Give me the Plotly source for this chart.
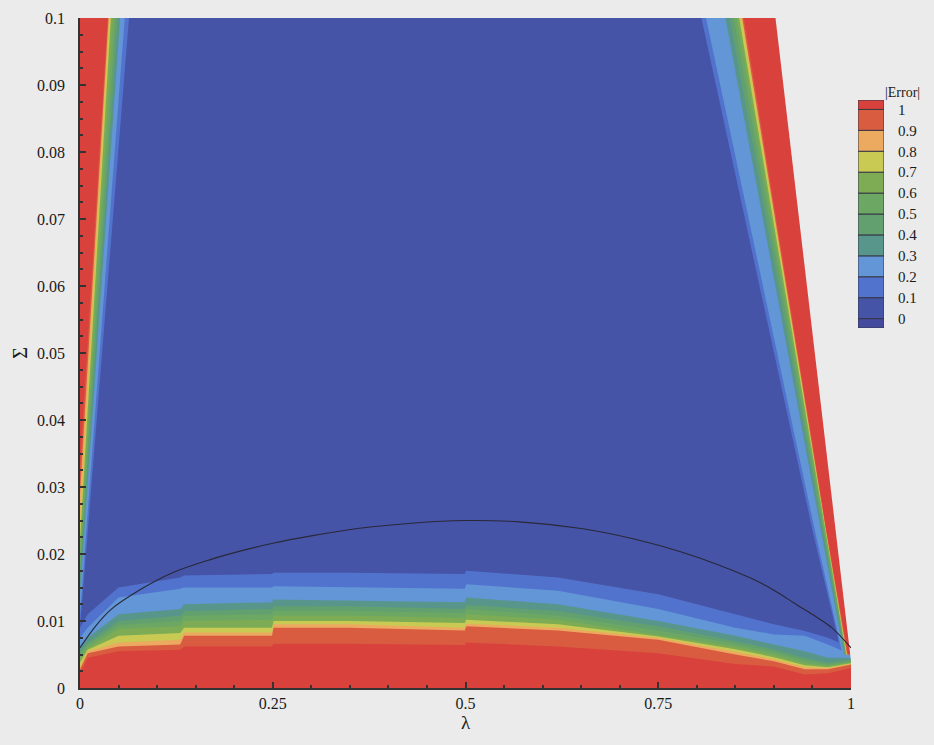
import plotly.graph_objects as go

# ---------------- data ----------------
levels = [0.1, 0.2, 0.3, 0.4, 0.5, 0.6, 0.7, 0.8, 0.9, 1.0]
level_labels = ["0", "0.1", "0.2", "0.3", "0.4", "0.5", "0.6", "0.7", "0.8", "0.9", "1"]
level_ticks = [0.0, 0.1, 0.2, 0.3, 0.4, 0.5, 0.6, 0.7, 0.8, 0.9, 1.0]

# legend bands: lower and upper bound of each colour box (below 0 ... above 1)
band_lower = [-0.045, 0.0, 0.1, 0.2, 0.3, 0.4, 0.5, 0.6, 0.7, 0.8, 0.9, 1.0]
band_upper = [0.0, 0.1, 0.2, 0.3, 0.4, 0.5, 0.6, 0.7, 0.8, 0.9, 1.0, 1.045]
band_colors = [
    "rgb(68,74,158)",   # < 0
    "rgb(70,84,168)",   # 0 - 0.1
    "rgb(82,115,205)",  # 0.1 - 0.2
    "rgb(98,150,215)",  # 0.2 - 0.3
    "rgb(88,150,140)",  # 0.3 - 0.4
    "rgb(98,160,112)",  # 0.4 - 0.5
    "rgb(108,168,100)", # 0.5 - 0.6
    "rgb(125,172,84)",  # 0.6 - 0.7
    "rgb(200,202,84)",  # 0.7 - 0.8
    "rgb(236,170,96)",  # 0.8 - 0.9
    "rgb(218,92,64)",   # 0.9 - 1
    "rgb(217,66,60)",   # > 1
]

# left wedge: lambda reached by each level at Sigma = 0.1, and Sigma where it meets lambda = 0
left_top_lambda = [0.0635, 0.058, 0.052, 0.049, 0.046, 0.043, 0.040, 0.038, 0.037, 0.036]
left_base_sigma = [0.009, 0.011, 0.014, 0.016, 0.018, 0.020, 0.022, 0.025, 0.029, 0.033]

# right wedge: lambda of each level line at three Sigma heights
right_sigma = [0.1, 0.0236, 0.005]
right_top_lambda = [0.806, 0.812, 0.837, 0.843, 0.848, 0.852, 0.855, 0.858, 0.859, 0.861]
right_mid_lambda = [0.950, 0.953, 0.961, 0.9625, 0.964, 0.965, 0.966, 0.967, 0.9675, 0.968]
right_low_lambda = [0.988, 0.989, 0.991, 0.992, 0.993, 0.9935, 0.994, 0.9945, 0.995, 0.996]

# right edge of the computed domain
edge_lambda = [0.899, 0.980, 0.997, 1.0, 1.0]
edge_sigma = [0.1, 0.0236, 0.007, 0.004, 0.0]

# bottom layers: Sigma height of each level along lambda
bottom_lambda = [0.0, 0.01, 0.05, 0.13, 0.135, 0.249, 0.251, 0.35, 0.499, 0.501,
                 0.62, 0.75, 0.85, 0.90, 0.94, 0.97, 1.0]
bottom_01 = [0.0090, 0.0110, 0.0150, 0.0165, 0.0168, 0.0170, 0.0172, 0.0172, 0.0170, 0.0175,
             0.0165, 0.0140, 0.0110, 0.0095, 0.0085, 0.0075, 0.0060]
bottom_02 = [0.0075, 0.0090, 0.0135, 0.0148, 0.0150, 0.0150, 0.0152, 0.0150, 0.0148, 0.0155,
             0.0145, 0.0118, 0.0090, 0.0080, 0.0078, 0.0065, 0.0050]
bottom_03 = [0.0062, 0.0075, 0.0110, 0.0118, 0.0125, 0.0128, 0.0132, 0.0130, 0.0128, 0.0135,
             0.0125, 0.0100, 0.0078, 0.0065, 0.0055, 0.0045, 0.0045]
bottom_04 = [0.0055, 0.0068, 0.0100, 0.0108, 0.0115, 0.0118, 0.0122, 0.0122, 0.0118, 0.0124,
             0.0115, 0.0092, 0.0070, 0.0058, 0.0045, 0.0038, 0.0042]
bottom_05 = [0.0050, 0.0064, 0.0094, 0.0100, 0.0108, 0.0110, 0.0115, 0.0115, 0.0112, 0.0118,
             0.0108, 0.0086, 0.0066, 0.0054, 0.0041, 0.0035, 0.0040]
bottom_06 = [0.0045, 0.0060, 0.0088, 0.0092, 0.0100, 0.0102, 0.0108, 0.0108, 0.0105, 0.0110,
             0.0102, 0.0080, 0.0062, 0.0050, 0.0037, 0.0033, 0.0038]
bottom_07 = [0.0038, 0.0057, 0.0078, 0.0082, 0.0090, 0.0090, 0.0100, 0.0100, 0.0097, 0.0102,
             0.0095, 0.0077, 0.0058, 0.0046, 0.0034, 0.0031, 0.0037]
bottom_08 = [0.0032, 0.0055, 0.0068, 0.0072, 0.0083, 0.0083, 0.0095, 0.0095, 0.0090, 0.0096,
             0.0090, 0.0075, 0.0054, 0.0043, 0.0031, 0.0030, 0.0036]
bottom_09 = [0.0028, 0.0052, 0.0062, 0.0065, 0.0078, 0.0078, 0.0090, 0.0090, 0.0086, 0.0092,
             0.0086, 0.0072, 0.0050, 0.0040, 0.0028, 0.0028, 0.0035]
bottom_10 = [0.0022, 0.0045, 0.0055, 0.0057, 0.0062, 0.0062, 0.0066, 0.0066, 0.0064, 0.0068,
             0.0062, 0.0052, 0.0036, 0.0032, 0.0020, 0.0022, 0.0030]
bottom_layers = [bottom_01, bottom_02, bottom_03, bottom_04, bottom_05,
                 bottom_06, bottom_07, bottom_08, bottom_09, bottom_10]

# black curve
curve_lambda = [0.0, 0.02, 0.04, 0.08, 0.12, 0.17, 0.21, 0.25, 0.30, 0.36, 0.43, 0.50,
                0.57, 0.65, 0.72, 0.78, 0.83, 0.87, 0.90, 0.93, 0.955, 0.975, 1.0]
curve_sigma = [0.0060, 0.0092, 0.0117, 0.0148, 0.0172, 0.0192, 0.0205, 0.0216, 0.0227,
               0.0238, 0.0246, 0.0250, 0.0248, 0.0238, 0.0222, 0.0203, 0.0183, 0.0164,
               0.0146, 0.0124, 0.0106, 0.0090, 0.0060]

x_tickvals = [0, 0.25, 0.5, 0.75, 1]
x_ticktext = ["0", "0.25", "0.5", "0.75", "1"]
y_tickvals = [0, 0.01, 0.02, 0.03, 0.04, 0.05, 0.06, 0.07, 0.08, 0.09, 0.1]
y_ticktext = ["0", "0.01", "0.02", "0.03", "0.04", "0.05", "0.06", "0.07", "0.08", "0.09", "0.1"]

# ---------------- layout constants ----------------
W, H = 934, 745
PAGE = "#ebebeb"
INK = "#1a1a1a"
FONT = "Liberation Serif"
LAM_RANGE = [0, 1]
SIG_RANGE = [0, 0.1]
PAD = 0.03  # mask overhang beyond the axis range (clipped away)
PLOT_PX = dict(left=80, right=851, top=18, bottom=688)
BAR_PX = dict(left=858, right=884, top=100, bottom=328)


def poly(xs, ys, color):
    return go.Scatter(x=xs, y=ys, mode="lines", fill="toself", fillcolor=color,
                      line=dict(width=0, color=color), hoverinfo="skip", showlegend=False,
                      xaxis="x", yaxis="y")


fig = go.Figure()

# base of the domain (lowest band above 0)
fig.add_trace(poly([LAM_RANGE[0], LAM_RANGE[0], LAM_RANGE[1], LAM_RANGE[1]],
                   [SIG_RANGE[0], SIG_RANGE[1], SIG_RANGE[1], SIG_RANGE[0]], band_colors[1]))

for i, lev in enumerate(levels):
    col = band_colors[i + 2]
    # left wedge
    fig.add_trace(poly([0, left_top_lambda[i], 0], [left_base_sigma[i], SIG_RANGE[1], SIG_RANGE[1]], col))
    # right wedge
    rx = [right_top_lambda[i], right_mid_lambda[i], right_low_lambda[i], 1.0, 1.0]
    ry = [right_sigma[0], right_sigma[1], right_sigma[2], right_sigma[2], right_sigma[0]]
    fig.add_trace(poly(rx, ry, col))
    # bottom layer
    bx = list(bottom_lambda) + [1.0, 0.0]
    by = list(bottom_layers[i]) + [0.0, 0.0]
    fig.add_trace(poly(bx, by, col))

# outside of the domain (page colour), overhanging the axis range so no seam shows
mx = [LAM_RANGE[1] + PAD, edge_lambda[0]] + list(edge_lambda[1:-1]) + [LAM_RANGE[1] + PAD]
my = [SIG_RANGE[1] + PAD * 0.1, SIG_RANGE[1] + PAD * 0.1] + list(edge_sigma[1:-1]) + [edge_sigma[-2]]
fig.add_trace(poly(mx, my, PAGE))

# curve
fig.add_trace(go.Scatter(x=curve_lambda, y=curve_sigma, mode="lines",
                         line=dict(color="rgb(40,40,55)", width=1.1, shape="spline"),
                         hoverinfo="skip", showlegend=False, xaxis="x", yaxis="y"))

# legend colour boxes, drawn as stacked bars on their own small axes
fig.add_trace(go.Bar(
    x=[0] * len(band_lower),
    y=[u - l for l, u in zip(band_lower, band_upper)],
    base=band_lower,
    width=1.0,
    marker=dict(color=band_colors, line=dict(color="rgb(55,55,70)", width=1)),
    hoverinfo="skip", showlegend=False, xaxis="x2", yaxis="y2",
))

fig.add_annotation(text="|Error|", xref="paper", yref="paper",
                   x=883 / W, y=1 - 93 / H, xanchor="left", yanchor="middle",
                   showarrow=False, font=dict(family=FONT, size=14, color=INK))

axis_common = dict(showline=True, linecolor="#333", linewidth=1.5, mirror=False,
                   ticks="inside", tickcolor="#333", tickwidth=1.5, ticklen=6,
                   showgrid=False, zeroline=False,
                   tickfont=dict(family=FONT, size=16, color=INK))

fig.update_layout(
    width=W, height=H,
    margin=dict(l=0, r=0, t=0, b=0, autoexpand=False),
    paper_bgcolor=PAGE, plot_bgcolor=PAGE,
    showlegend=False, barmode="overlay",
    xaxis=dict(domain=[PLOT_PX["left"] / W, PLOT_PX["right"] / W], anchor="y",
               range=LAM_RANGE, tickvals=x_tickvals, ticktext=x_ticktext,
               minor=dict(ticks="inside", dtick=0.05, ticklen=3, tickcolor="#333", showgrid=False),
               title=dict(text="λ", font=dict(family=FONT, size=19, color=INK), standoff=0),
               **axis_common),
    yaxis=dict(domain=[1 - PLOT_PX["bottom"] / H, 1 - PLOT_PX["top"] / H], anchor="x",
               range=SIG_RANGE, tickvals=y_tickvals, ticktext=y_ticktext,
               minor=dict(ticks="inside", dtick=0.0025, ticklen=3, tickcolor="#333", showgrid=False),
               ticklabelstandoff=10,
               title=dict(text="Σ", font=dict(family=FONT, size=20, color=INK), standoff=4),
               **axis_common),
    xaxis2=dict(domain=[BAR_PX["left"] / W, BAR_PX["right"] / W], anchor="y2",
                range=[-0.5, 0.5], visible=False, fixedrange=True),
    yaxis2=dict(domain=[1 - BAR_PX["bottom"] / H, 1 - BAR_PX["top"] / H], anchor="x2",
                side="right", range=[band_lower[0], band_upper[-1]],
                tickvals=level_ticks, ticktext=level_labels,
                ticks="", showline=False, showgrid=False, zeroline=False,
                ticklabelstandoff=13, fixedrange=True,
                tickfont=dict(family=FONT, size=15, color=INK)),
)

fig.write_html("out.html")
